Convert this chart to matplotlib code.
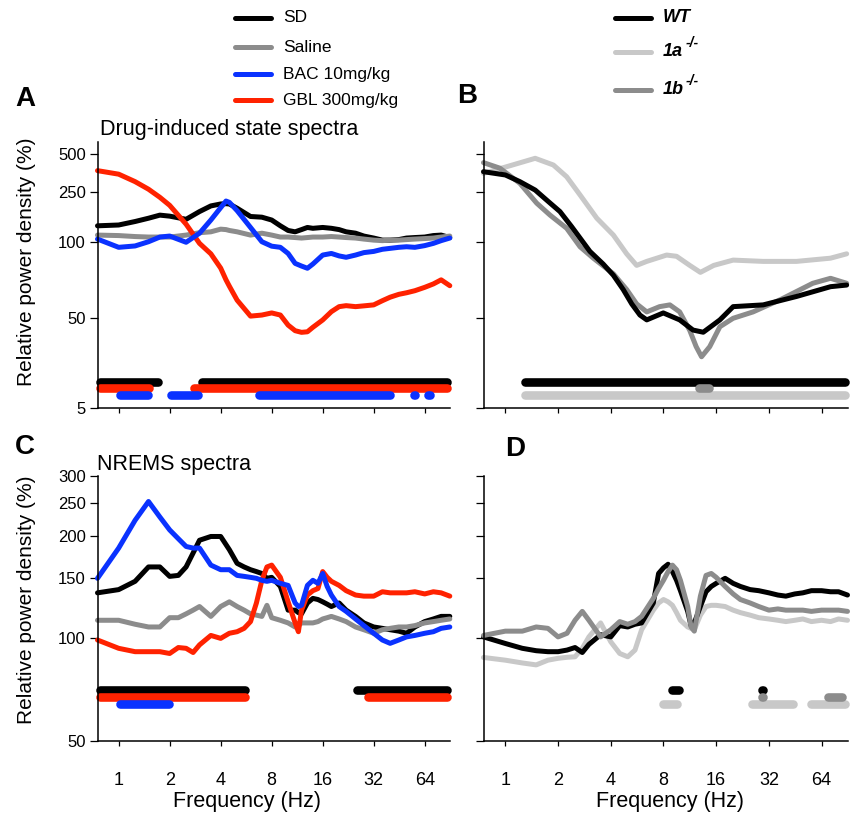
import numpy as np
import matplotlib
matplotlib.use('Agg')
import matplotlib.pyplot as plt
from matplotlib.lines import Line2D
from matplotlib.ticker import NullLocator

plt.rcParams['font.family'] = ['Liberation Sans', 'DejaVu Sans']

# colours
BLACK = '#000000'
GREY = '#8c8c8c'
LIGHT = '#c8c8c8'
BLUE = '#0a32ff'
RED = '#ff2200'

# ---------------- data: panel A (drug-induced state) ----------------
freqA = [0.75, 1, 1.25, 1.5, 1.75, 2, 2.5, 3, 3.5, 4, 4.3, 4.5, 5, 6, 7, 8, 9, 10, 11, 12,
         13, 14, 16, 18, 20, 22, 25, 28, 32, 36, 40, 45, 50, 56, 64, 72, 80, 90]
sdA = [135, 137, 146, 155, 164, 161, 152, 175, 194, 201, 202, 201, 186, 160, 158, 150, 135, 124, 121, 126,
       131, 129, 131, 129, 126, 121, 118, 112, 108, 104, 104, 105, 108, 109, 110, 113, 114, 109]
salA = [114, 113, 111, 110, 110, 110, 114, 119, 121, 127, 126, 124, 121, 114, 118, 114, 110, 110, 109, 108,
        109, 110, 110, 111, 110, 109, 108, 106, 104, 103, 104, 104, 105, 106, 107, 108, 110, 112]
bacA = [106, 95.5, 96.7, 101, 110, 112, 100, 118, 150, 188, 212, 207, 178, 131, 101, 96.5, 95.5, 90.3, 82.5, 80.5,
        78.9, 82, 89, 90.3, 88.3, 87.2, 89, 91, 92, 93.8, 94.6, 95.5, 96, 95.5, 97, 99, 103, 108]
gblA = [369, 346, 302, 263, 227, 196, 139, 99, 90, 79, 71, 67, 59, 51, 51.5, 52.5, 51.5, 42, 36.4, 34.9,
        35.4, 39.7, 47.9, 53.1, 55.6, 56.1, 55.6, 56, 56.5, 58.7, 60.6, 62.2, 63.1, 64.3, 66.3, 68.4, 71, 67.3]

# ---------------- data: panel B (genotypes, drug-induced) ----------------
wtB_f = [0.75, 1.0, 1.21, 1.48, 1.76, 2.05, 2.39, 2.67, 3.04, 3.62, 4.14, 4.71, 5.27, 5.87, 6.42,
         7.98, 9.9, 11.8, 13.5, 16.8, 20, 29.7, 46, 72, 89]
wtB = [362, 341, 302, 259, 210, 175, 133, 108, 92, 82, 74, 65, 57, 51.5, 48,
       52.5, 48, 37, 35, 48, 55.6, 56.5, 61, 66.7, 67.7]
aB_f = [0.75, 1.02, 1.48, 1.88, 2.24, 2.67, 3.33, 4.14, 4.93, 5.62, 6.42, 8.34, 9.5, 11.3, 13.0,
        15.5, 20, 29.7, 46, 72, 89]
aB = [351, 397, 462, 409, 330, 237, 155, 114, 90, 81, 84, 89, 88, 81, 76,
      81, 85, 84, 84, 86.5, 90]
bB_f = [0.75, 0.93, 1.21, 1.51, 1.8, 2.24, 2.67, 3.18, 4.14, 4.93, 5.62, 6.42, 7.6, 8.7, 9.9,
        11.3, 12.3, 13.2, 14.7, 16.8, 20, 26, 37.3, 57, 72, 89]
bB = [427, 386, 293, 204, 164, 129, 96, 86.5, 75, 65, 57, 53, 55.6, 56.5, 53,
      36.7, 24.2, 18.7, 24.2, 40.3, 50, 53, 59.3, 68.8, 72, 68.8]

# ---------------- data: panel C (NREMS) ----------------
freqC = [0.75, 1, 1.25, 1.5, 1.75, 2, 2.25, 2.5, 2.75, 3, 3.5, 4, 4.5, 5, 5.5, 6, 6.5, 7, 7.5, 8,
         9, 10, 11, 11.5, 12, 13, 14, 15, 16, 17, 18, 20, 22, 25, 28, 32, 36, 40, 45, 50,
         56, 64, 72, 80, 90]
sdC = [136, 139, 147, 162, 162, 152, 153, 162, 178, 194, 199, 199, 182, 166, 162, 159, 157, 155, 150, 151,
       142, 121, 121, 119, 118, 127, 131, 130, 128, 126, 124, 127, 121, 116, 111, 108, 107, 106, 105, 103.5,
       108, 112, 114, 116, 116]
salC = [113, 113, 110, 108, 108, 115, 115, 118, 121, 124, 116, 124, 128, 124, 121, 118, 117, 116, 125, 115,
        113, 111, 108, 109, 111, 111, 111, 112, 114, 115, 116, 114, 112, 108, 106, 103.5, 106, 107, 108, 108,
        109, 111, 112, 113, 114]
bacC = [150, 184, 222, 252, 227, 208, 196, 186, 184, 184, 164, 159, 159, 153, 152, 151, 150, 148, 147, 148,
        145, 143, 127, 124, 125, 143, 148, 145, 155, 142, 134, 124, 120, 114, 109, 103.5, 98.9, 96.7, 98.9, 101,
        102, 103.5, 104.6, 107, 108]
gblC = [98.9, 93.5, 91.4, 91.4, 91.4, 90.3, 94, 93.5, 90.9, 95.7, 102, 100, 103.5, 104.6, 107, 112, 127, 148, 162, 164,
        151, 128, 111, 104.6, 121, 134, 138, 140, 157, 151, 147, 143, 138, 134, 133, 133, 137, 136, 136, 136,
        137, 135, 137, 136, 133]

# ---------------- data: panel D (genotypes, NREMS) ----------------
freqD = [0.75, 1, 1.25, 1.5, 1.75, 2, 2.25, 2.5, 2.75, 3, 3.5, 4, 4.5, 5, 5.5, 6, 7, 7.5, 8, 8.5,
         9, 9.5, 10, 11, 11.5, 12, 13, 14, 15, 16, 18, 20, 22, 25, 28, 32, 36, 40, 45, 50,
         56, 64, 72, 80, 90]
wtD = [101, 96.6, 93.5, 92, 91.4, 91.4, 92.4, 94, 90.9, 96, 102.5, 101, 109, 108, 110, 111, 127, 155, 161, 165,
       157, 148, 138, 120, 109, 111, 124, 137, 142, 145, 150, 145, 142, 139, 138, 136, 134, 133, 135, 136,
       138, 138, 137, 137, 134]
aD = [87.9, 86.3, 84.7, 83.6, 86.3, 87.4, 88, 88.3, 93.5, 101, 111, 97.7, 90.3, 88.3, 92.4, 106, 121, 127, 130, 128,
      125, 119, 113, 108, 107, 106, 117, 124, 125, 125, 124, 121, 119, 117, 115, 114, 113, 112, 113, 114,
      112, 113, 112, 114, 113]
bD = [102, 105, 105, 108, 107, 101, 103.5, 113, 120, 113, 101, 106, 112, 110, 112, 116, 131, 140, 148, 157,
      164, 159, 148, 124, 108, 105, 133, 153, 155, 151, 142, 135, 130, 127, 124, 121, 122, 121, 121, 121,
      120, 121, 121, 121, 120]

# significant frequency ranges (Hz)
sigA_sd = [(0.78, 1.7), (3.1, 87)]
sigA_gbl = [(0.78, 1.5), (2.8, 87)]
sigA_bac = [(1.02, 1.48), (2.04, 2.95), (6.7, 40), (55.2, 56), (66.7, 68.5)]
sigB_wt = [(1.3, 87)]
sigB_1b = [(12.8, 14.6)]
sigB_1a = [(1.3, 87)]
sigC_sd = [(0.78, 5.6), (25.4, 87)]
sigC_gbl = [(0.78, 5.6), (29.7, 87)]
sigC_bac = [(1.02, 1.99)]
sigD_wt = [(8.9, 9.8), (29.3, 29.7)]
sigD_1b = [(29.3, 29.7), (69.5, 84)]
sigD_1a = [(8.0, 9.6), (25.5, 43.8), (55.6, 87)]

xticks = [1, 2, 4, 8, 16, 32, 64]
ticksAB = [5, 50, 100, 250, 500]
ticksCD = [50, 100, 150, 200, 250, 300]

# ---------------- figure ----------------
W, H = 851, 814
fig = plt.figure(figsize=(W / 100, H / 100), dpi=100)


def px_axes(left, top, width, height):
    return fig.add_axes([left / W, 1 - (top + height) / H, width / W, height / H])


# odd y-axis of the top row: log-like, compressed below 100
nodes_v = np.log10([0.5, 5, 50, 100, 10000])
nodes_u = [-90, 0, 90, 166, 166 + 2 * 126.3]


def fwd(v):
    v = np.clip(np.asarray(v, dtype=float), 1e-3, None)
    return np.interp(np.log10(v), nodes_v, nodes_u)


def inv(u):
    return 10 ** np.interp(np.asarray(u, dtype=float), nodes_u, nodes_v)


axA = px_axes(97.5, 142, 352.3, 266.3)
axB = px_axes(483.5, 142, 364, 266.3)
axC = px_axes(97.5, 475.7, 352.3, 265.3)
axD = px_axes(483.5, 475.7, 364, 265.3)

for ax in (axA, axB, axC, axD):
    ax.set_xscale('log', base=2)
    ax.set_xlim(0.75, 90)
    ax.set_xticks(xticks)
    ax.xaxis.set_minor_locator(NullLocator())
    for s in ('top', 'right'):
        ax.spines[s].set_visible(False)
    for s in ('left', 'bottom'):
        ax.spines[s].set_linewidth(1.1)
    ax.tick_params(axis='y', length=5.5, width=0.9, labelsize=12, pad=3)
    ax.tick_params(axis='x', length=3.6, width=0.9, labelsize=13, pad=19)

for ax in (axA, axB):
    ax.set_yscale('function', functions=(fwd, inv))
    ax.set_ylim(5, 622)
    ax.set_yticks(ticksAB)
    ax.yaxis.set_minor_locator(NullLocator())
    ax.set_xticklabels([])
axA.set_yticklabels([str(t) for t in ticksAB])
axB.set_yticklabels([])

for ax in (axC, axD):
    ax.set_yscale('log')
    ax.set_ylim(50, 300)
    ax.set_yticks(ticksCD)
    ax.yaxis.set_minor_locator(NullLocator())
    ax.set_xticklabels([str(t) for t in xticks])
axC.set_yticklabels([str(t) for t in ticksCD])
axD.set_yticklabels([])

LW = 3.6
SIGW = 6.2


def curve(ax, f, v, c):
    ax.plot(f, v, color=c, lw=LW, solid_joinstyle='round', solid_capstyle='round', clip_on=False)


def sig(ax, ranges, yv, c):
    for f0, f1 in ranges:
        ax.plot([f0, f1], [yv, yv], color=c, lw=SIGW, solid_capstyle='round', clip_on=False)


# panel A
curve(axA, freqA, sdA, BLACK)
curve(axA, freqA, salA, GREY)
curve(axA, freqA, gblA, RED)
curve(axA, freqA, bacA, BLUE)
sig(axA, sigA_sd, 9.8, BLACK)
sig(axA, sigA_gbl, 8.4, RED)
sig(axA, sigA_bac, 7.0, BLUE)

# panel B
curve(axB, aB_f, aB, LIGHT)
curve(axB, bB_f, bB, GREY)
curve(axB, wtB_f, wtB, BLACK)
sig(axB, sigB_wt, 9.8, BLACK)
sig(axB, sigB_1a, 7.0, LIGHT)
sig(axB, sigB_1b, 8.4, GREY)

# panel C
curve(axC, freqC, sdC, BLACK)
curve(axC, freqC, salC, GREY)
curve(axC, freqC, gblC, RED)
curve(axC, freqC, bacC, BLUE)
sig(axC, sigC_sd, 70.6, BLACK)
sig(axC, sigC_gbl, 67.5, RED)
sig(axC, sigC_bac, 64.2, BLUE)

# panel D
curve(axD, freqD, aD, LIGHT)
curve(axD, freqD, wtD, BLACK)
curve(axD, freqD, bD, GREY)
sig(axD, sigD_wt, 70.6, BLACK)
sig(axD, sigD_1a, 64.2, LIGHT)
sig(axD, sigD_1b, 67.5, GREY)

# y labels
axA.set_ylabel('Relative power density (%)', fontsize=15)
axA.yaxis.set_label_coords((36 - 97.5) / 352.3, (408.3 - 262) / 266.3)
axC.set_ylabel('Relative power density (%)', fontsize=15)
axC.yaxis.set_label_coords((36 - 97.5) / 352.3, (741 - 600) / 265.3)


def ftext(x, y, s, **kw):
    fig.text(x / W, 1 - y / H, s, **kw)


ftext(247, 801, 'Frequency (Hz)', fontsize=15.5, ha='center', va='center')
ftext(670, 801, 'Frequency (Hz)', fontsize=15.5, ha='center', va='center')

ftext(100, 129, 'Drug-induced state spectra', fontsize=15.5, ha='left', va='center')
ftext(97, 464, 'NREMS spectra', fontsize=15.5, ha='left', va='center')

for lab, x, y in (('A', 25, 99), ('B', 467, 96), ('C', 25, 447), ('D', 515, 449)):
    ftext(x, y, lab, fontsize=20, fontweight='bold', ha='center', va='center')

# legends drawn by hand
legL = [('SD', BLACK, 18), ('Saline', GREY, 47), ('BAC 10mg/kg', BLUE, 74), ('GBL 300mg/kg', RED, 100)]
for name, c, y in legL:
    fig.add_artist(Line2D([235 / W, 271 / W], [1 - y / H] * 2, color=c, lw=LW,
                          solid_capstyle='round', transform=fig.transFigure))
    ftext(283, y, name, fontsize=12.5, ha='left', va='center')

legR = [('WT', '', BLACK, 18), ('1a', '-/-', LIGHT, 52), ('1b', '-/-', GREY, 90)]
for name, sup, c, y in legR:
    fig.add_artist(Line2D([615 / W, 651 / W], [1 - y / H] * 2, color=c, lw=LW,
                          solid_capstyle='round', transform=fig.transFigure))
    ftext(663, y, name, fontsize=13, fontweight='bold', fontstyle='italic', ha='left', va='center')
    if sup:
        ftext(686, y - 9, sup, fontsize=10, fontweight='bold', fontstyle='italic', ha='left', va='center')

fig.savefig('out.png', dpi=100)
